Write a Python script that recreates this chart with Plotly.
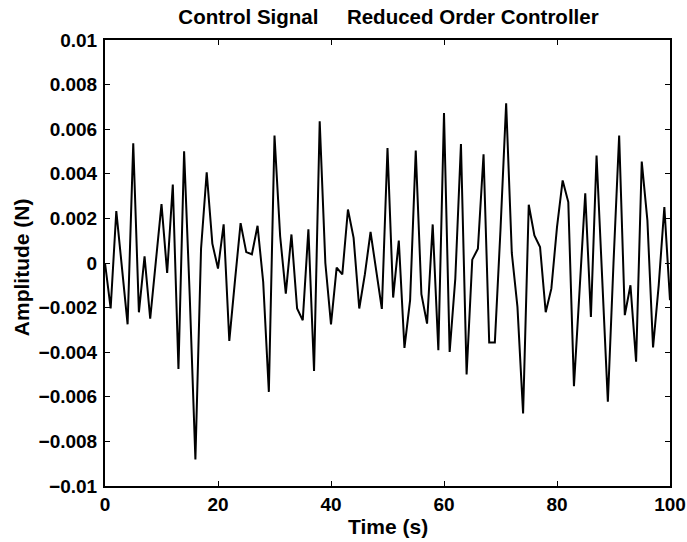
import plotly.graph_objects as go

t = list(range(101))
u_mN = [
    0.0, -2.04, 2.33, -0.3, -2.75, 5.37, -2.21, 0.30, -2.5, 0.07,
    2.64, -0.45, 3.52, -4.75, 5.01, -1.5, -8.81, 0.64, 4.07, 0.87,
    -0.25, 1.73, -3.49, -0.8, 1.79, 0.49, 0.39, 1.67, -0.85, -5.78,
    5.72, 1.2, -1.37, 1.28, -2.04, -2.57, 1.51, -4.84, 6.36, 0.0,
    -2.75, -0.21, -0.51, 2.40, 1.13, -2.04, -0.5, 1.39, -0.33, -2.06,
    5.15, -1.55, 1.01, -3.81, -1.67, 5.04, -1.40, -2.72, 1.73, -3.91,
    6.72, -3.99, -0.7, 5.34, -5.0, 0.15, 0.64, 4.87, -3.57, -3.57,
    1.5, 7.16, 0.45, -1.97, -6.75, 2.61, 1.24, 0.72, -2.21, -1.15,
    1.61, 3.70, 2.73, -5.52, -1.2, 3.13, -2.42, 4.82, -0.7, -6.22,
    0.0, 5.72, -2.34, -1.0, -4.43, 4.55, 1.91, -3.79, -1.0, 2.51,
    -1.67,
]
u = [v * 1e-3 for v in u_mN]

x_ticks = [0, 20, 40, 60, 80, 100]
y_ticks = [-0.01, -0.008, -0.006, -0.004, -0.002, 0, 0.002, 0.004, 0.006, 0.008, 0.01]
y_tick_text = ["\u22120.01", "\u22120.008", "\u22120.006", "\u22120.004", "\u22120.002", "0",
               "0.002", "0.004", "0.006", "0.008", "0.01"]

FAM = "Liberation Sans, Arial, Helvetica, sans-serif"

fig = go.Figure()
fig.add_trace(go.Scatter(x=t, y=u, mode="lines", line=dict(color="black", width=2), showlegend=False))

fig.update_layout(
    width=687, height=542,
    margin=dict(l=105, r=17, t=40, b=56, autoexpand=False),
    paper_bgcolor="white", plot_bgcolor="white",
    font=dict(family=FAM, size=19, color="black"),
    title=dict(text="<b>Control Signal     Reduced Order Controller</b>", x=0.5018, xanchor="center",
               xref="paper", y=0.9683, yanchor="middle", font=dict(size=20.5, color="black")),
    annotations=[
        dict(text="<b>Time (s)</b>", xref="paper", yref="paper", x=0.5, y=-0.0897,
             xanchor="center", yanchor="middle", showarrow=False, font=dict(size=21)),
        dict(text="<b>Amplitude (N)</b>", xref="paper", yref="paper", x=-0.1474, y=0.49,
             xanchor="center", yanchor="middle", textangle=-90, showarrow=False, font=dict(size=21)),
    ],
)
fig.update_xaxes(range=[0, 100], tickvals=x_ticks, ticktext=[f"<b>{v}</b>" for v in x_ticks],
                 ticks="inside", ticklen=5, tickwidth=1, tickcolor="black",
                 showline=True, linecolor="black", linewidth=2, mirror="ticks",
                 showgrid=False, zeroline=False, automargin=False)
fig.update_yaxes(range=[-0.01, 0.01], tickvals=y_ticks, ticktext=[f"<b>{s}</b>" for s in y_tick_text],
                 ticks="inside", ticklen=5, tickwidth=1, tickcolor="black",
                 showline=True, linecolor="black", linewidth=2, mirror="ticks",
                 showgrid=False, zeroline=False, automargin=False, ticklabelstandoff=2)

# remove the browser's default 8px body margin so the 687x542 figure fills the window exactly
fig.write_html("out.html", config={"displayModeBar": False},
               post_script="document.body.style.margin='0';")
